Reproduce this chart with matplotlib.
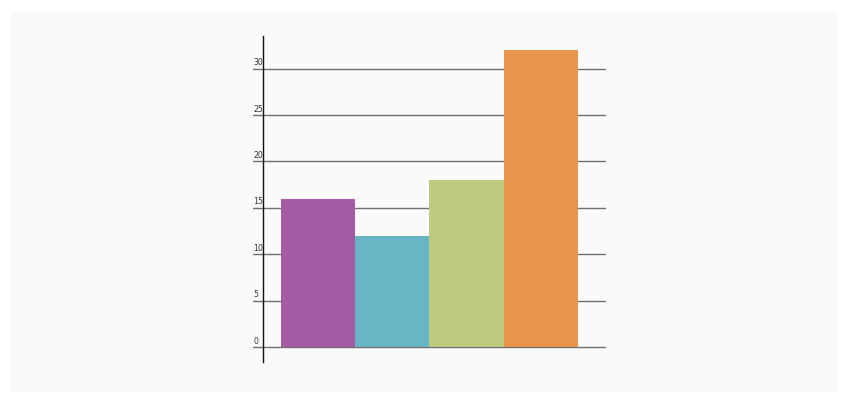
import matplotlib
matplotlib.use("Agg")
import matplotlib.pyplot as plt
from matplotlib.patches import Rectangle
import matplotlib.transforms as mtransforms

categories = ["A", "B", "C", "D"]
values = [16, 12, 18, 32]
colors = ["#a35ba4", "#69b5c6", "#bdcb7f", "#e8954b"]
yticks = [0, 5, 10, 15, 20, 25, 30]

W, H = 850, 403
fig = plt.figure(figsize=(W / 100, H / 100), dpi=100)
fig.patch.set_facecolor("white")
fig.patches.append(Rectangle((11 / W, 1 - 392 / H), (838 - 11) / W, (392 - 11) / H,
                             transform=fig.transFigure, facecolor="#fafafa",
                             edgecolor="none", zorder=-5))

left, right, top, bottom = 253, 606, 36, 362
ax = fig.add_axes([left / W, 1 - bottom / H, (right - left) / W, (bottom - top) / H])
ax.set_facecolor("none")
ax.set_zorder(5)

bw = 74.25
xpos = list(range(len(categories)))
ax.bar(xpos, values, width=1.0, color=colors, zorder=3)
x0 = -(318 - left) / bw
ax.set_xlim(x0, x0 + (right - left) / bw)
ax.set_ylim(-1.6, 33.5)

tr = mtransforms.blended_transform_factory(ax.transAxes, ax.transData)
for t in yticks:
    ax.axhline(t, color="#707070", lw=1.0, zorder=2)
    ax.text(0.0, t + 0.15, str(t), transform=tr, fontsize=5.6, color="#333333",
            ha="left", va="bottom")

for s in ["top", "right", "bottom"]:
    ax.spines[s].set_visible(False)
ax.spines["left"].set_position(("axes", (263 - left) / (right - left)))
ax.spines["left"].set_color("#111111")
ax.spines["left"].set_linewidth(1.0)
ax.set_xticks([])
ax.set_yticks([])

fig.savefig("out.png", dpi=100, facecolor=fig.get_facecolor())
